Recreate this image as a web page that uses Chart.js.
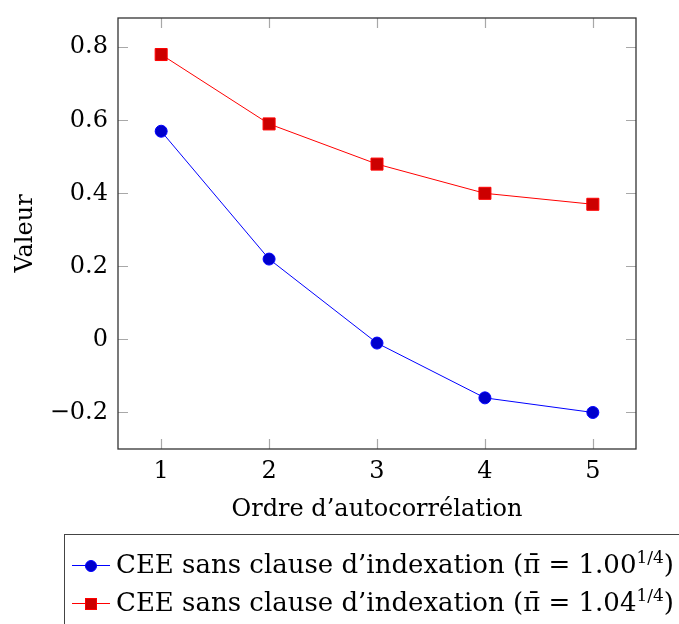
<!DOCTYPE html>
<html lang="fr">
<head>
<meta charset="UTF-8">
<title>Autocorrélation</title>
<script src="https://cdn.jsdelivr.net/npm/chart.js"></script>
<style>
  html, body { margin: 0; padding: 0; background: #fff; }
  #wrap { position: relative; width: 679px; height: 624px; overflow: hidden; }
  #legende { position: absolute; left: 64px; top: 534px; width: 660px; height: 120px;
             border: 1px solid #444; font-family: "DejaVu Serif", serif; font-size: 26px; color: #000; }
  .ligne { position: absolute; left: 0; height: 38px; white-space: nowrap; }
  .trait { position: absolute; left: 7px; top: 18px; width: 38px; height: 1px; }
  .marque { position: absolute; box-sizing: border-box; width: 12px; height: 12px; left: 20px; top: 13px; }
  .texte { position: absolute; left: 51px; top: 2px; line-height: 30px; }
  .texte sup { font-size: 17px; vertical-align: 10px; line-height: 0; }
</style>
</head>
<body>
<div id="wrap">
  <canvas id="graphique" width="679" height="624"></canvas>
  <div id="legende"></div>
</div>
<script>
// données
const ordres = [1, 2, 3, 4, 5];
const valeurs100 = [0.57, 0.22, -0.01, -0.16, -0.20];
const valeurs104 = [0.78, 0.59, 0.48, 0.40, 0.37];
const yTicks = [-0.2, 0, 0.2, 0.4, 0.6, 0.8];
const xTicks = [1, 2, 3, 4, 5];
const piBarres = ['1.00', '1.04'];
const libelle = 'CEE sans clause d’indexation (π̄ = ';

const police = { family: '"DejaVu Serif", serif', size: 24 };

// petits traits de graduation à l'intérieur du cadre, sur les quatre côtés
const cadre = {
    id: 'cadre',
    beforeDatasetsDraw(chart) {
        const { ctx, chartArea: a, scales: { x, y } } = chart;
        ctx.save();
        ctx.strokeStyle = '#a8a8a8';
        ctx.lineWidth = 1.2;
        ctx.beginPath();
        xTicks.forEach(v => {
            const px = Math.round(x.getPixelForValue(v)) + 0.5;
            ctx.moveTo(px, a.bottom); ctx.lineTo(px, a.bottom - 10);
            ctx.moveTo(px, a.top); ctx.lineTo(px, a.top + 10);
        });
        yTicks.forEach(v => {
            const py = Math.round(y.getPixelForValue(v)) + 0.5;
            ctx.moveTo(a.left, py); ctx.lineTo(a.left + 10, py);
            ctx.moveTo(a.right, py); ctx.lineTo(a.right - 10, py);
        });
        ctx.stroke();
        ctx.strokeStyle = '#333';
        ctx.lineWidth = 1.3;
        ctx.strokeRect(a.left, a.top, a.right - a.left, a.bottom - a.top);
        ctx.restore();
    }
};

function formatY(v) {
    if (Math.abs(v) < 1e-9) return '0';
    return (v < 0 ? '\u2212' : '') + Math.abs(v).toFixed(1);
}

new Chart(document.getElementById('graphique'), {
    type: 'line',
    data: {
        datasets: [
            {
                label: libelle + piBarres[0] + '^1/4)',
                data: ordres.map((o, i) => ({ x: o, y: valeurs100[i] })),
                borderColor: '#0000ff',
                borderWidth: 1,
                pointStyle: 'circle',
                pointRadius: 6,
                pointBackgroundColor: '#0000cc',
                pointBorderColor: '#0000ff',
                pointBorderWidth: 1,
                tension: 0
            },
            {
                label: libelle + piBarres[1] + '^1/4)',
                data: ordres.map((o, i) => ({ x: o, y: valeurs104[i] })),
                borderColor: '#ff0000',
                borderWidth: 1,
                pointStyle: 'rect',
                pointRadius: 8.5,
                pointBackgroundColor: '#cc0000',
                pointBorderColor: '#ff0000',
                pointBorderWidth: 1,
                tension: 0
            }
        ]
    },
    options: {
        responsive: false,
        animation: false,
        layout: { padding: { left: 0, right: 43, top: 18, bottom: 94 } },
        plugins: { legend: { display: false }, tooltip: { enabled: false } },
        scales: {
            x: {
                type: 'linear',
                min: 0.6,
                max: 5.4,
                afterBuildTicks: s => { s.ticks = xTicks.map(v => ({ value: v })); },
                afterFit: s => { s.height = 81; s.paddingLeft = 0; s.paddingRight = 0; },
                grid: { display: false, drawTicks: false },
                border: { display: false },
                ticks: { color: '#000', font: police, padding: 8, callback: v => String(v) },
                title: { display: true, text: 'Ordre d’autocorrélation', color: '#000', font: police, padding: { top: 0, bottom: 6 } }
            },
            y: {
                min: -0.3,
                max: 0.88,
                afterBuildTicks: s => { s.ticks = yTicks.map(v => ({ value: v })); },
                afterFit: s => { s.width = 118; s.paddingTop = 0; s.paddingBottom = 0; },
                grid: { display: false, drawTicks: false },
                border: { display: false },
                ticks: { color: '#000', font: police, padding: 10, callback: v => formatY(v) },
                title: { display: true, text: 'Valeur', color: '#000', font: police, padding: { top: 11, bottom: 0 } }
            }
        }
    },
    plugins: [cadre]
});

// légende encadrée sous le graphique
const styles = [
    { trait: '#0000ff', fond: '#0000cc', bord: '#0000ff', rond: true },
    { trait: '#ff0000', fond: '#cc0000', bord: '#ff0000', rond: false }
];
const leg = document.getElementById('legende');
piBarres.forEach((p, i) => {
    const row = document.createElement('div');
    row.className = 'ligne';
    row.style.top = (12 + i * 38) + 'px';
    const t = document.createElement('div');
    t.className = 'trait';
    t.style.background = styles[i].trait;
    const m = document.createElement('div');
    m.className = 'marque';
    m.style.background = styles[i].fond;
    m.style.border = '1px solid ' + styles[i].bord;
    if (styles[i].rond) m.style.borderRadius = '50%';
    const txt = document.createElement('div');
    txt.className = 'texte';
    txt.appendChild(document.createTextNode(libelle + p));
    const sup = document.createElement('sup');
    sup.textContent = '1/4';
    txt.appendChild(sup);
    txt.appendChild(document.createTextNode(')'));
    row.append(t, m, txt);
    leg.appendChild(row);
});
</script>
</body>
</html>
